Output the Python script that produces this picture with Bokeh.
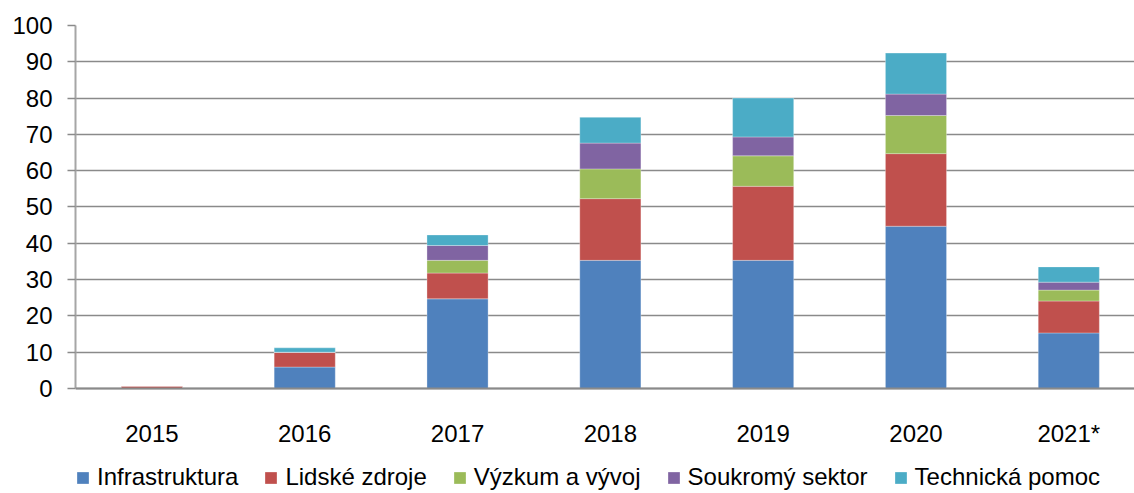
from bokeh.plotting import figure
from bokeh.models import Range1d, FixedTicker, ColumnDataSource, Legend, LegendItem, Span
from bokeh.core.properties import value
from bokeh.embed import file_html
from bokeh.resources import INLINE

years = ["2015", "2016", "2017", "2018", "2019", "2020", "2021*"]
series = ["Infrastruktura", "Lidské zdroje", "Výzkum a vývoj", "Soukromý sektor", "Technická pomoc"]
infrastruktura = [0.0, 5.9, 24.7, 35.3, 35.3, 44.7, 15.3]
lidske_zdroje = [0.7, 4.1, 7.1, 17.0, 20.4, 20.0, 8.8]
vyzkum = [0.0, 0.0, 3.5, 8.2, 8.4, 10.5, 3.0]
soukromy = [0.0, 0.0, 4.1, 7.1, 5.2, 5.9, 2.2]
technicka = [0.0, 1.2, 2.9, 7.1, 10.7, 11.3, 4.2]
colors = ["#4F81BD", "#C0504D", "#9BBB59", "#8064A2", "#4BACC6"]
y_ticks = list(range(0, 101, 10))

keys = ["s0", "s1", "s2", "s3", "s4"]
data = dict(x=list(range(len(years))), year=years, base=[0] * len(years))
for k, v in zip(keys, [infrastruktura, lidske_zdroje, vyzkum, soukromy, technicka]):
    data[k] = v
source = ColumnDataSource(data)

FONT = "Liberation Sans"

# frame reaches down to the bottom so that the category labels and legend sit inside it
p = figure(frame_width=1059, frame_height=468, output_backend="svg", toolbar_location=None,
           x_range=Range1d(-0.5, 6.43), y_range=Range1d(-28.93, 100),
           x_axis_location=None,
           min_border_left=75, min_border_right=0, min_border_top=25, min_border_bottom=0)
p.outline_line_color = None
p.background_fill_color = "white"
p.border_fill_color = "white"

renderers = p.vbar_stack(keys, x="x", width=0.4, source=source, color=colors,
                         line_color="white", line_width=0.6, line_alpha=0.5)

# y axis
p.yaxis.ticker = FixedTicker(ticks=y_ticks)
p.yaxis.bounds = (0, 100)
p.yaxis.axis_line_color = "#a6a6a6"
p.yaxis.axis_line_width = 2
p.yaxis.major_tick_line_color = "#8a8a8a"
p.yaxis.major_tick_line_width = 1.5
p.yaxis.major_tick_out = 8
p.yaxis.major_tick_in = 0
p.yaxis.minor_tick_line_color = None
p.yaxis.major_label_standoff = 15
p.yaxis.major_label_text_font = FONT
p.yaxis.major_label_text_font_size = "24px"
p.yaxis.major_label_text_color = "#000000"

p.xgrid.grid_line_color = None
p.ygrid.ticker = FixedTicker(ticks=y_ticks)
p.ygrid.grid_line_color = "#8a8a8a"
p.ygrid.grid_line_width = 1.5

# category axis line at zero and category labels
p.add_layout(Span(location=0, dimension="width", line_color="#8a8a8a", line_width=2))
p.text(x="x", y="base", text="year", source=source, y_offset=45,
       text_align="center", text_baseline="alphabetic",
       text_font=value(FONT), text_font_size=value("24px"), text_color="#000000")

legend = Legend(items=[LegendItem(label=s, renderers=[r]) for s, r in zip(series, renderers)],
                orientation="horizontal", location=(0, 2))
legend.glyph_width = 15
legend.glyph_height = 15
legend.label_standoff = 7
legend.spacing = 25
legend.padding = 0
legend.margin = 0
legend.border_line_color = None
legend.background_fill_alpha = 0
legend.label_text_font = FONT
legend.label_text_font_size = "24px"
legend.label_text_color = "#000000"
legend.label_height = 20
p.add_layout(legend, "center")

open("out.html", "w").write(file_html(p, INLINE))
